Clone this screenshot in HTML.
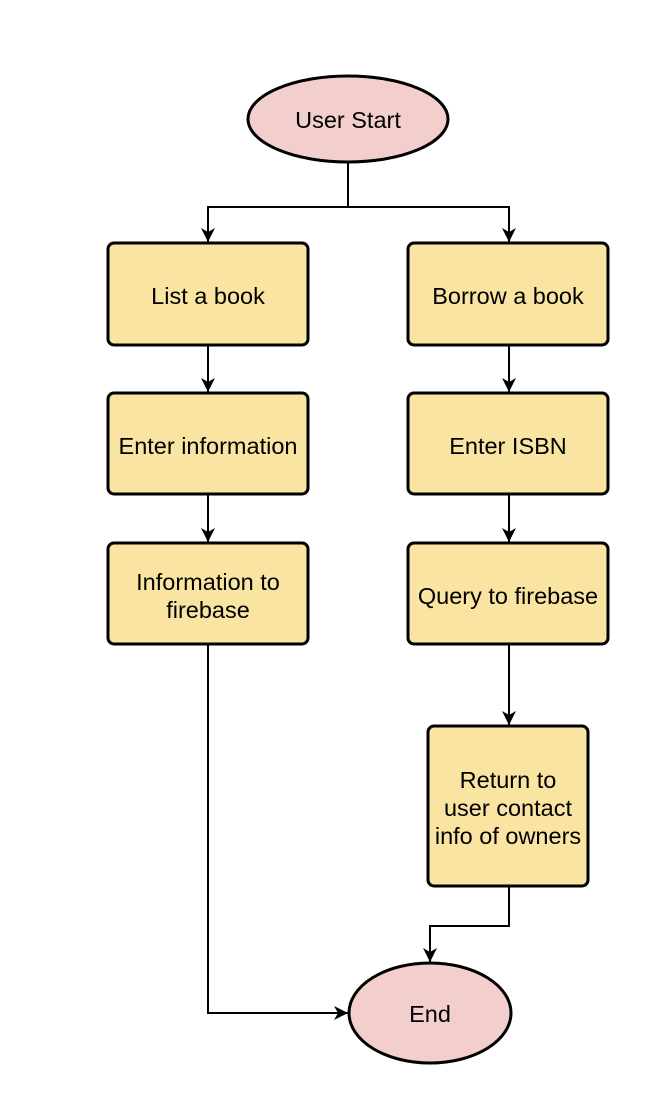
<!DOCTYPE html>
<html><head><style>body{margin:0;background:#fff}</style></head><body>
<svg width="672" height="1090" xmlns="http://www.w3.org/2000/svg" font-family="Liberation Sans, Arial, sans-serif" font-size="23.5" text-anchor="middle">
<defs><marker id="a" markerWidth="16" markerHeight="16" refX="14" refY="7" orient="auto" markerUnits="userSpaceOnUse"><path d="M0,0 L14,7 L0,14 L4,7 Z" fill="#000"/></marker></defs>
<g fill="none" stroke="#000" stroke-width="2">
<path d="M348,163 V207 H208 V242" marker-end="url(#a)"/>
<path d="M348,207 H509 V242" marker-end="url(#a)"/>
<path d="M208,345 V392" marker-end="url(#a)"/>
<path d="M208,494 V542" marker-end="url(#a)"/>
<path d="M509,345 V392" marker-end="url(#a)"/>
<path d="M509,494 V542" marker-end="url(#a)"/>
<path d="M509,644 V725" marker-end="url(#a)"/>
<path d="M509,886 V926 H430 V962" marker-end="url(#a)"/>
<path d="M208,644 V1013 H348" marker-end="url(#a)"/>
</g>
<g stroke="#000" stroke-width="3">
<ellipse cx="348" cy="119" rx="100" ry="43" fill="#f2cfcd"/>
<ellipse cx="430" cy="1013" rx="81" ry="50" fill="#f2cfcd"/>
<g fill="#f9e4a1">
<rect x="108" y="243" width="200" height="102" rx="6"/>
<rect x="408" y="243" width="200" height="102" rx="6"/>
<rect x="108" y="393" width="200" height="101" rx="6"/>
<rect x="408" y="393" width="200" height="101" rx="6"/>
<rect x="108" y="543" width="200" height="101" rx="6"/>
<rect x="408" y="543" width="200" height="101" rx="6"/>
<rect x="428" y="726" width="160" height="160" rx="6"/>
</g></g>
<g fill="#000">
<text x="348" y="128">User Start</text>
<text x="208" y="304">List a book</text>
<text x="508" y="304">Borrow a book</text>
<text x="208" y="454">Enter information</text>
<text x="508" y="454">Enter ISBN</text>
<text x="208" y="590">Information to</text>
<text x="208" y="618">firebase</text>
<text x="508" y="604">Query to firebase</text>
<text x="508" y="788">Return to</text>
<text x="508" y="816">user contact</text>
<text x="508" y="844">info of owners</text>
<text x="430" y="1022">End</text>
</g>
</svg>
</body></html>
